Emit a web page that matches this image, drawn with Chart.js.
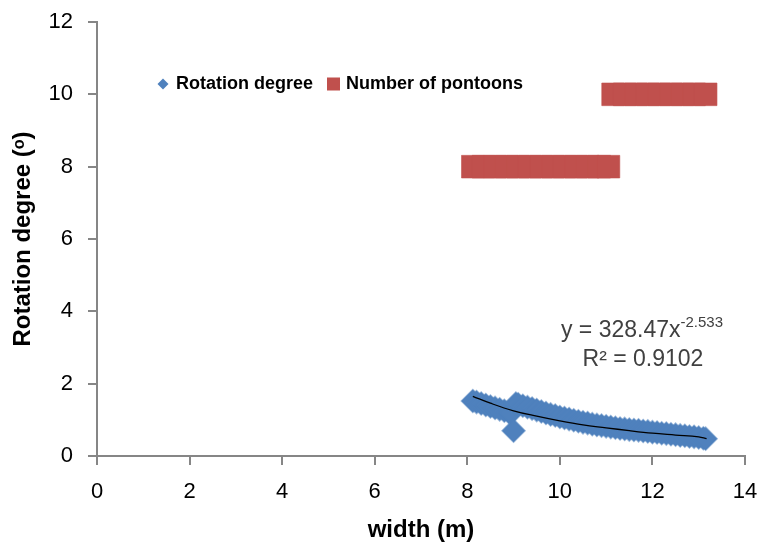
<!DOCTYPE html>
<html>
<head>
<meta charset="utf-8">
<script src="https://cdn.jsdelivr.net/npm/chart.js@4"></script>
<style>
  body { margin: 0; background: #fff; }
  canvas { display: block; }
</style>
</head>
<body>
<canvas id="myChart" width="763" height="547"></canvas>
<script>
// Rotation degree (blue diamonds)
const rotX = [8.12, 8.2, 8.3, 8.4, 8.5, 8.6, 8.7, 8.8, 8.9, 8.95, 9.0, 9.05, 9.1, 9.2, 9.3, 9.4, 9.5, 9.6, 9.7, 9.8, 9.9,
              10.0, 10.1, 10.2, 10.3, 10.4, 10.5, 10.6, 10.7, 10.8, 10.9, 11.0, 11.1, 11.2, 11.3, 11.4, 11.5, 11.6, 11.7,
              11.8, 11.9, 12.0, 12.1, 12.2, 12.3, 12.4, 12.5, 12.6, 12.7, 12.8, 12.9, 13.0, 13.1, 13.15];
const rotY = [1.52, 1.49, 1.45, 1.41, 1.37, 1.33, 1.29, 1.25, 1.21, 1.19, 0.70, 1.45, 1.43, 1.39, 1.35, 1.31, 1.27, 1.23, 1.19, 1.15, 1.12,
              1.08, 1.05, 1.02, 0.99, 0.96, 0.93, 0.91, 0.88, 0.86, 0.84, 0.82, 0.80, 0.78, 0.76, 0.75, 0.73, 0.72, 0.71,
              0.69, 0.68, 0.66, 0.65, 0.63, 0.62, 0.60, 0.59, 0.57, 0.56, 0.54, 0.53, 0.51, 0.49, 0.48];

// Number of pontoons (red squares)
const pontoonX = [8.12, 8.35, 8.6, 8.85, 9.1, 9.35, 9.6, 9.85, 10.1, 10.35, 10.6, 10.85, 11.05,
                  11.15, 11.4, 11.65, 11.9, 12.15, 12.4, 12.65, 12.9, 13.15];
const pontoonY = [8, 8, 8, 8, 8, 8, 8, 8, 8, 8, 8, 8, 8,
                  10, 10, 10, 10, 10, 10, 10, 10, 10];

// power trendline
const trendX = [8.12, 8.5, 9.0, 9.5, 10.0, 10.5, 11.0, 11.5, 12.0, 12.5, 13.0, 13.17];
const trendY = [1.65, 1.46, 1.25, 1.10, 0.97, 0.86, 0.78, 0.70, 0.63, 0.58, 0.53, 0.48];

const xTicks = [0, 2, 4, 6, 8, 10, 12, 14];
const yTicks = [0, 2, 4, 6, 8, 10, 12];

const legendItems = ['Rotation degree', 'Number of pontoons'];
const equationText = ['y = 328.47x', '-2.533', 'R\u00B2 = 0.9102'];

const FONT = "'Liberation Sans', Arial, sans-serif";
const BLUE = '#4F81BD';
const RED = '#C0504D';
const AXIS = '#868686';

function toPoints(xs, ys) {
    return xs.map((x, i) => ({ x: x, y: ys[i] }));
}

const overlay = {
    id: 'overlay',
    afterDraw(chart) {
        const ctx = chart.ctx;
        const ys = chart.scales.y;
        ctx.save();

        // legend inside the plot
        const ly = 84;
        ctx.fillStyle = BLUE;
        ctx.beginPath();
        ctx.moveTo(163, ly - 5.5);
        ctx.lineTo(168.5, ly);
        ctx.lineTo(163, ly + 5.5);
        ctx.lineTo(157.5, ly);
        ctx.closePath();
        ctx.fill();
        ctx.fillStyle = '#000';
        ctx.font = 'bold 18px ' + FONT;
        ctx.textBaseline = 'middle';
        ctx.textAlign = 'left';
        ctx.fillText(legendItems[0], 176, ly);
        ctx.fillStyle = RED;
        ctx.fillRect(327, ly - 6.5, 13, 13);
        ctx.fillStyle = '#000';
        ctx.fillText(legendItems[1], 346, ly);

        // trendline equation
        ctx.fillStyle = '#404040';
        ctx.textBaseline = 'alphabetic';
        ctx.textAlign = 'left';
        ctx.font = '23px ' + FONT;
        const w1 = ctx.measureText(equationText[0]).width;
        ctx.font = '15px ' + FONT;
        const w2 = ctx.measureText(equationText[1]).width;
        const x0 = 642 - (w1 + w2) / 2;
        const base1 = ys.getPixelForValue(3.3);
        ctx.font = '23px ' + FONT;
        ctx.fillText(equationText[0], x0, base1);
        ctx.font = '15px ' + FONT;
        ctx.fillText(equationText[1], x0 + w1, base1 - 10);
        ctx.font = '23px ' + FONT;
        ctx.textAlign = 'center';
        ctx.fillText(equationText[2], 643, ys.getPixelForValue(2.5));
        ctx.restore();
    }
};

new Chart(document.getElementById('myChart'), {
    type: 'scatter',
    data: {
        datasets: [{
            label: 'trend',
            data: toPoints(trendX, trendY),
            showLine: true,
            borderColor: '#000',
            borderWidth: 1.3,
            pointRadius: 0,
            tension: 0.4,
            order: 0
        }, {
            label: legendItems[0],
            data: toPoints(rotX, rotY),
            pointStyle: 'rectRot',
            pointRadius: 11.5,
            backgroundColor: BLUE,
            borderColor: 'rgba(79,129,189,0.55)',
            borderWidth: 1.5,
            order: 1
        }, {
            label: legendItems[1],
            data: toPoints(pontoonX, pontoonY),
            pointStyle: 'rect',
            pointRadius: 16,
            backgroundColor: RED,
            borderColor: 'rgba(192,80,77,0.6)',
            borderWidth: 1,
            order: 2
        }]
    },
    options: {
        responsive: false,
        animation: false,
        devicePixelRatio: 1,
        layout: { padding: { top: 22, right: 18, left: 0, bottom: 0 } },
        plugins: {
            legend: { display: false },
            tooltip: { enabled: false }
        },
        scales: {
            x: {
                type: 'linear',
                min: 0,
                max: 14,
                afterFit: function(scale) {
                    scale.height = 91;
                    scale.paddingLeft = 0;
                    scale.paddingRight = 0;
                },
                afterBuildTicks: function(scale) { scale.ticks = xTicks.map(v => ({ value: v })); },
                grid: { drawOnChartArea: false, drawTicks: true, tickLength: 9, color: AXIS, lineWidth: 2 },
                border: { display: true, color: AXIS, width: 2 },
                ticks: { color: '#000', font: { family: FONT, size: 22 }, padding: 14, maxRotation: 0 },
                title: {
                    display: true,
                    text: 'width (m)',
                    color: '#000',
                    font: { family: FONT, size: 24, weight: 'bold' },
                    padding: { top: 0, bottom: 2 }
                }
            },
            y: {
                type: 'linear',
                min: 0,
                max: 12,
                afterFit: function(scale) {
                    scale.width = 97;
                    scale.paddingTop = 0;
                    scale.paddingBottom = 0;
                },
                afterBuildTicks: function(scale) { scale.ticks = yTicks.map(v => ({ value: v })); },
                grid: { drawOnChartArea: false, drawTicks: true, tickLength: 9, color: AXIS, lineWidth: 2 },
                border: { display: true, color: AXIS, width: 2 },
                ticks: { color: '#000', font: { family: FONT, size: 22 }, padding: 15 },
                title: {
                    display: true,
                    text: 'Rotation degree (\u1D52)',
                    color: '#000',
                    font: { family: FONT, size: 24, weight: 'bold' },
                    padding: { top: 9, bottom: 0 }
                }
            }
        }
    },
    plugins: [overlay]
});
</script>
</body>
</html>
